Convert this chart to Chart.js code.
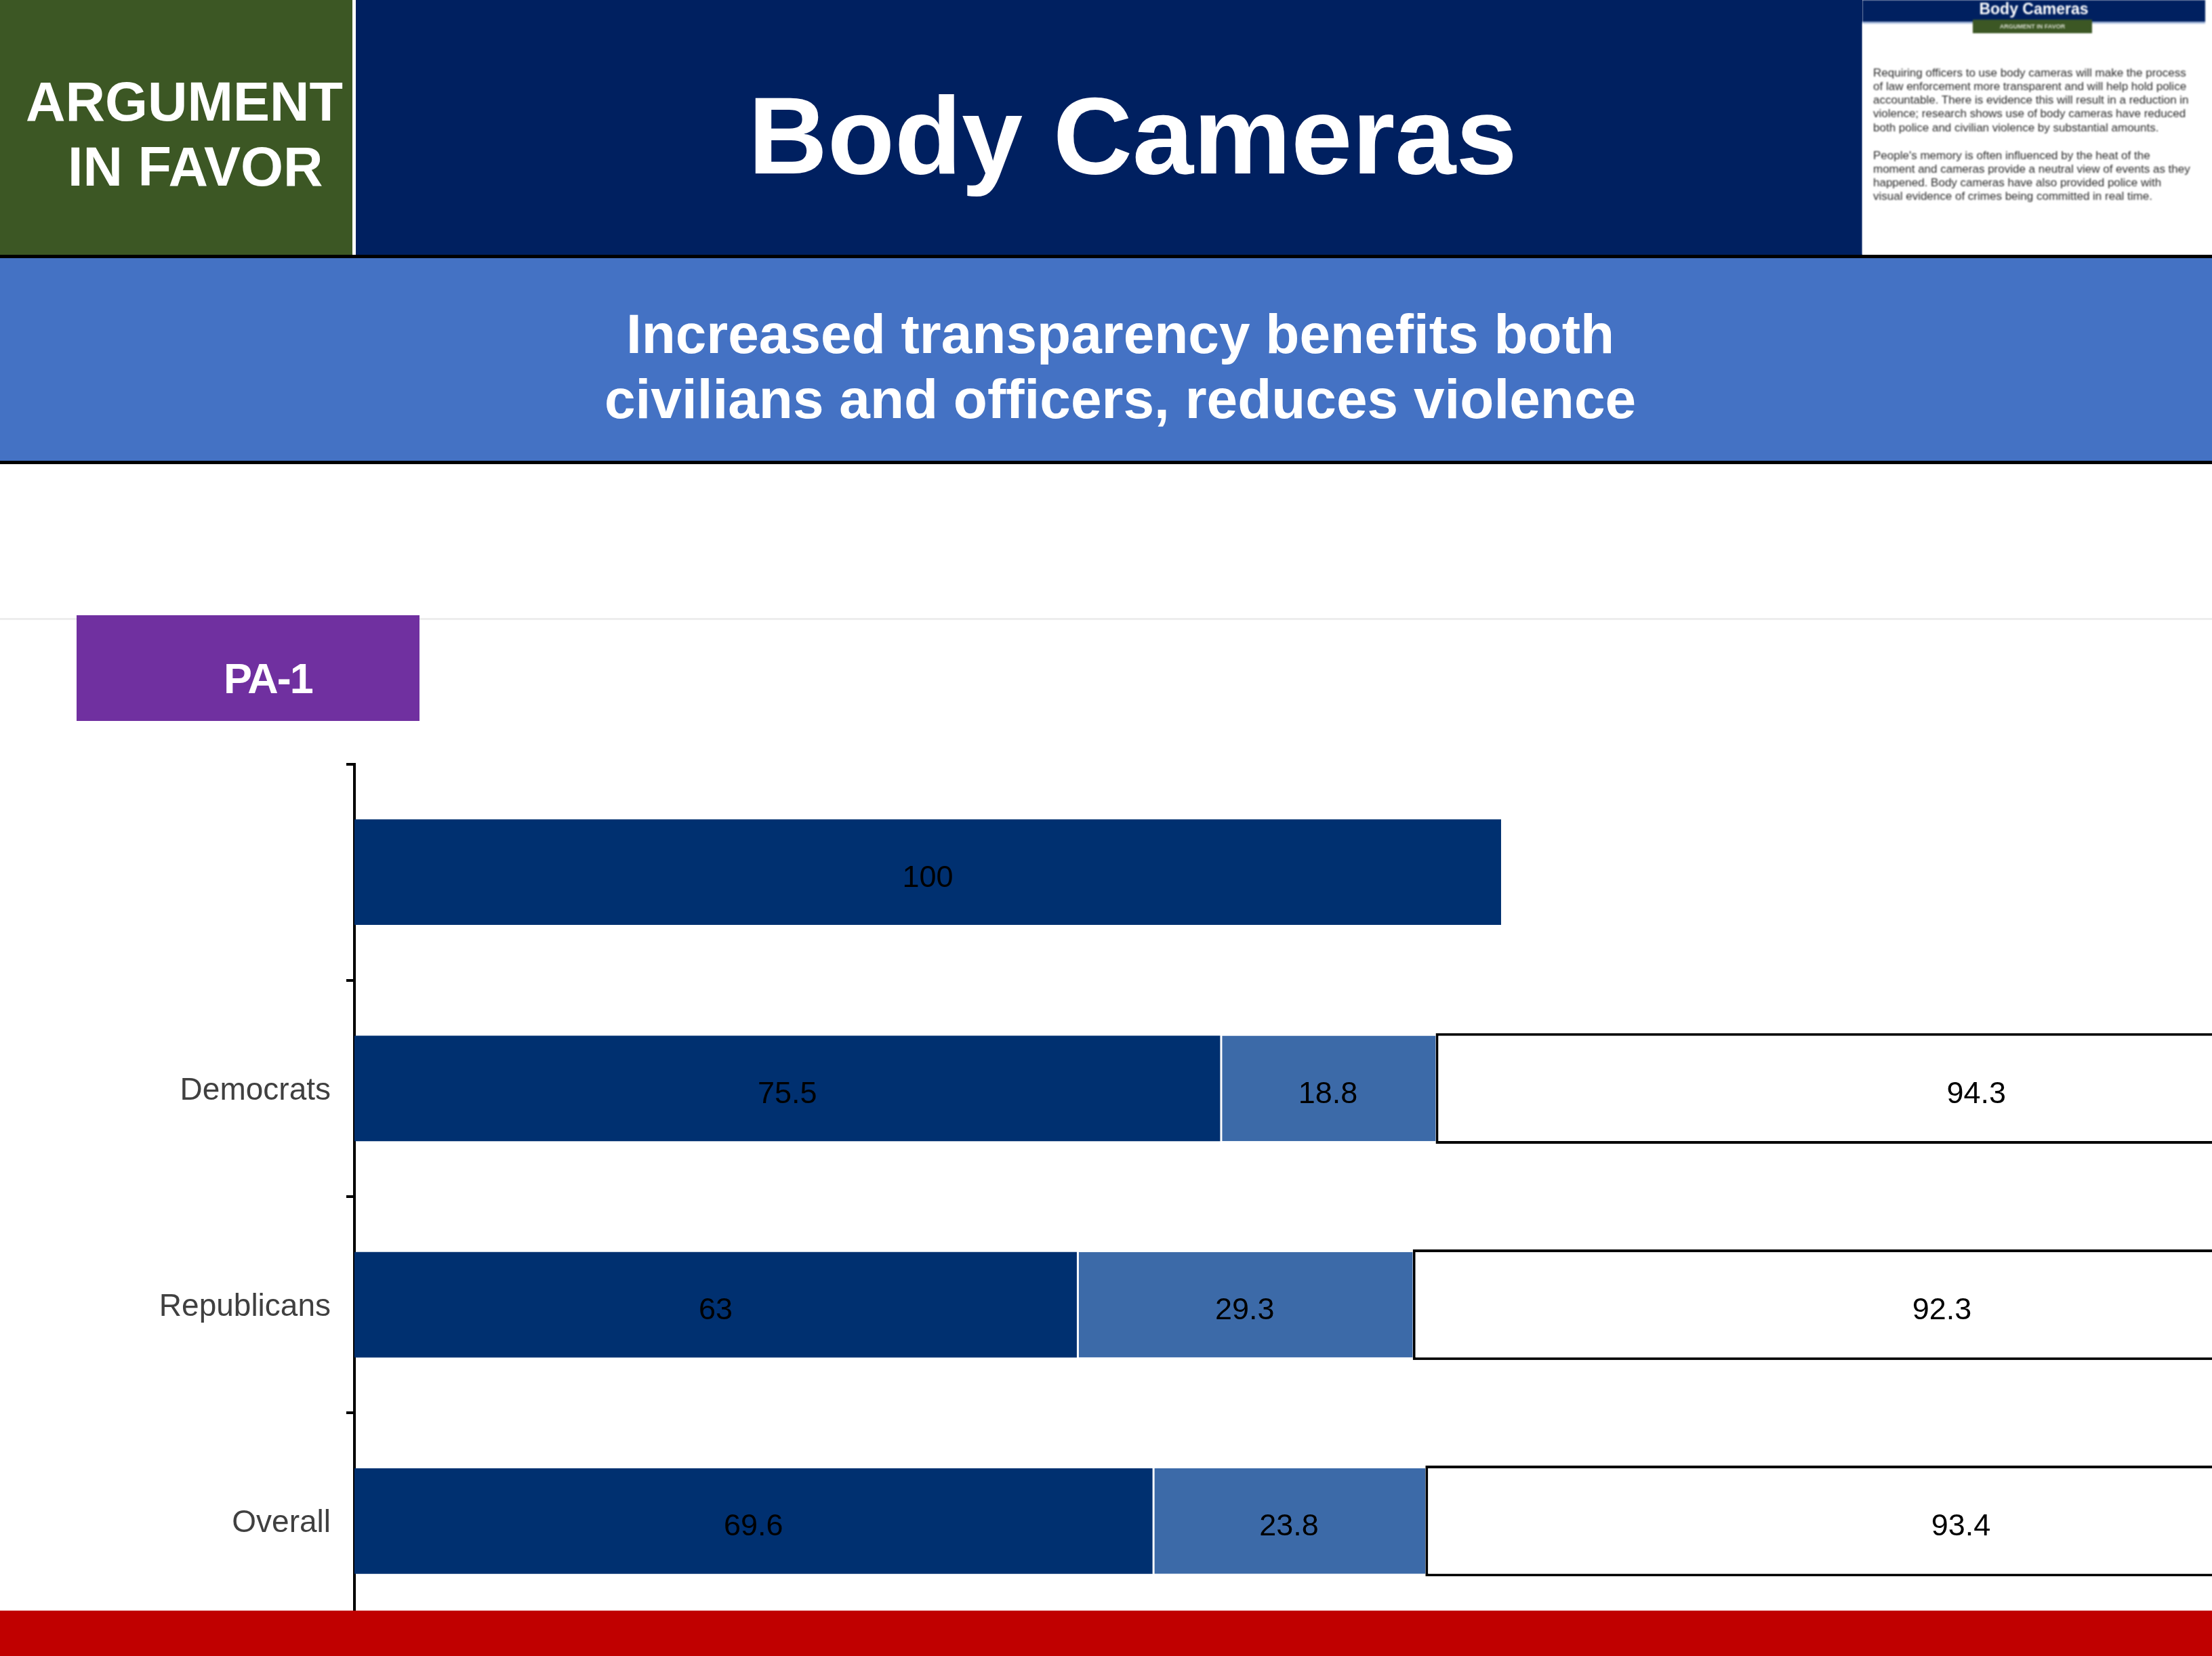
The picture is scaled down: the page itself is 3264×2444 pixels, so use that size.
<!DOCTYPE html>
<html>
<head>
<meta charset="utf-8">
<script src="https://cdn.jsdelivr.net/npm/chart.js@4/dist/chart.umd.min.js"></script>
<style>
html,body{margin:0;padding:0;background:#fff;}
body{width:3264px;height:2444px;position:relative;overflow:hidden;font-family:"Liberation Sans",Arial,sans-serif;}
.a{position:absolute;white-space:nowrap;}
.thumbline{position:absolute;left:16px;font-size:17px;line-height:20.3px;color:#2a2a2a;white-space:nowrap;}
</style>
</head>
<body>
<!-- header -->
<div class="a" style="left:0;top:0;width:520px;height:376px;background:#3C5724;"></div>
<div class="a" style="left:520px;top:0;width:5px;height:376px;background:#fff;"></div>
<div class="a" style="left:525px;top:0;width:2223px;height:376px;background:#002060;"></div>
<div class="a" style="left:38px;top:110px;font-size:81px;line-height:81px;font-weight:bold;color:#fff;">ARGUMENT</div>
<div class="a" style="left:100px;top:206px;font-size:81px;line-height:81px;font-weight:bold;color:#fff;">IN FAVOR</div>
<div class="a" style="left:1104px;top:119px;font-size:162px;line-height:162px;font-weight:bold;color:#fff;">Body Cameras</div>

<!-- thumbnail -->
<div class="a" style="left:2748px;top:0;width:516px;height:376px;background:#fff;filter:blur(0.9px);">
  <div class="a" style="left:0;top:0;width:506px;height:32px;background:#002060;"></div>
  <div class="a" style="left:0;top:32px;width:506px;height:3px;background:#A9BCDD;"></div>
  <div class="a" style="left:0;top:2px;width:506px;text-align:center;font-size:23px;line-height:23px;font-weight:bold;color:#fff;">Body Cameras</div>
  <div class="a" style="left:163px;top:29px;width:176px;height:20px;background:#3C5724;text-align:center;font-size:9px;line-height:20px;font-weight:bold;color:#d8dccf;">ARGUMENT IN FAVOR</div>
  <div class="thumbline" style="top:98px;">Requiring officers to use body cameras will make the process</div>
  <div class="thumbline" style="top:118px;">of law enforcement more transparent and will help hold police</div>
  <div class="thumbline" style="top:138px;">accountable. There is evidence this will result in a reduction in</div>
  <div class="thumbline" style="top:158px;">violence; research shows use of body cameras have reduced</div>
  <div class="thumbline" style="top:179px;">both police and civilian violence by substantial amounts.</div>
  <div class="thumbline" style="top:220px;">People's memory is often influenced by the heat of the</div>
  <div class="thumbline" style="top:240px;">moment and cameras provide a neutral view of events as they</div>
  <div class="thumbline" style="top:260px;">happened. Body cameras have also provided police with</div>
  <div class="thumbline" style="top:280px;">visual evidence of crimes being committed in real time.</div>
</div>

<div class="a" style="left:0;top:376px;width:3264px;height:5px;background:#000;"></div>
<!-- subtitle band -->
<div class="a" style="left:0;top:381px;width:3264px;height:299px;background:#4472C4;"></div>
<div class="a" style="left:0;top:680px;width:3264px;height:5px;background:#000;"></div>
<div class="a" style="left:0;top:445px;width:3306px;text-align:center;font-size:82px;line-height:96px;font-weight:bold;color:#fff;">Increased transparency benefits both<br>civilians and officers, reduces violence</div>

<!-- separator + label box -->
<div class="a" style="left:0;top:912px;width:3264px;height:3px;background:#EDEDED;"></div>
<div class="a" style="left:113px;top:908px;width:506px;height:156px;background:#7030A0;"></div>
<div class="a" style="left:330px;top:970px;font-size:63px;line-height:63px;font-weight:bold;color:#fff;letter-spacing:-2px;">PA-1</div>

<canvas id="c" width="3264" height="1378" style="position:absolute;left:0;top:1077px;"></canvas>

<div class="a" style="left:0;top:2377px;width:3264px;height:67px;background:#C00000;z-index:5;"></div>

<script>
const categories = ["", "Democrats", "Republicans", "Overall"];
const strongSupport = [100, 75.5, 63, 69.6];
const somewhatSupport = [null, 18.8, 29.3, 23.8];
const totalSupport = [null, 94.3, 92.3, 93.4];

const valueLabels = {
  id: 'valueLabels',
  afterDatasetsDraw(chart) {
    const ctx = chart.ctx;
    ctx.save();
    ctx.font = '45px "Liberation Sans", Arial, sans-serif';
    ctx.fillStyle = '#000';
    ctx.textAlign = 'center';
    ctx.textBaseline = 'middle';
    chart.data.datasets.forEach((ds, i) => {
      const meta = chart.getDatasetMeta(i);
      meta.data.forEach((el, j) => {
        const v = ds.data[j];
        if (v === null || v === undefined) return;
        const p = el.getProps(['x', 'y', 'base'], true);
        ctx.fillText(String(v), (p.x + p.base) / 2, p.y + 9);
      });
    });
    ctx.restore();
  }
};

new Chart(document.getElementById('c'), {
  type: 'bar',
  data: {
    labels: categories,
    datasets: [
      { label: 'Strongly support', data: strongSupport, backgroundColor: '#003070', borderWidth: 0,
        barPercentage: 0.488, categoryPercentage: 1 },
      { label: 'Somewhat support', data: somewhatSupport, backgroundColor: '#3C6AA8', borderColor: '#ffffff',
        borderWidth: { left: 3, right: 0, top: 0, bottom: 0 }, borderSkipped: false,
        barPercentage: 0.488, categoryPercentage: 1 },
      { label: 'Total support', data: totalSupport, backgroundColor: '#ffffff', borderColor: '#000000',
        borderWidth: 4, borderSkipped: false, barPercentage: 0.512, categoryPercentage: 1 }
    ]
  },
  options: {
    indexAxis: 'y',
    responsive: false,
    devicePixelRatio: 1,
    animation: false,
    layout: { padding: 0 },
    plugins: { legend: { display: false }, tooltip: { enabled: false } },
    scales: {
      x: { stacked: true, min: 0, max: 162, display: false },
      y: {
        stacked: true,
        grid: { drawOnChartArea: false, color: '#000', lineWidth: 4, tickLength: 12, offset: true },
        border: { display: true, color: '#000', width: 4 },
        ticks: { font: { family: 'Liberation Sans', size: 46 }, color: '#404040', padding: 23, labelOffset: 4 },
        afterFit(s) { s.width = 523; }
      }
    }
  },
  plugins: [valueLabels]
});
</script>
</body>
</html>
